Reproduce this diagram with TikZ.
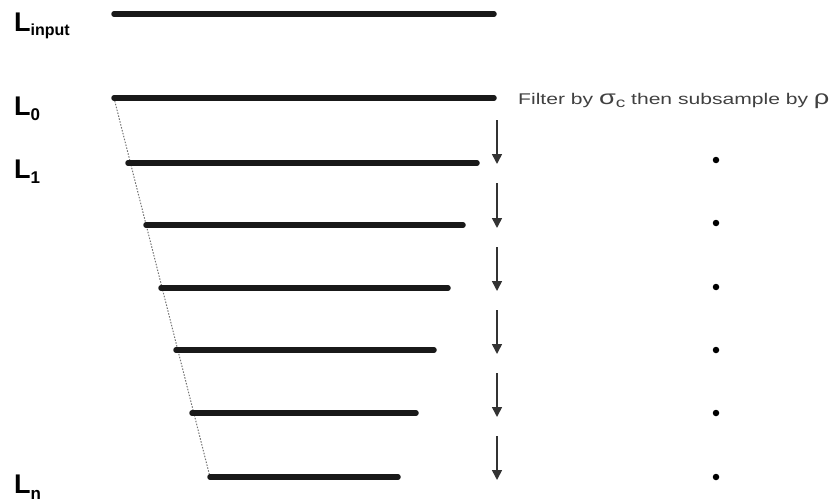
\documentclass[tikz,border=0pt]{standalone}
\usepackage{fontspec}
\setmainfont{Liberation Sans}
\usetikzlibrary{arrows.meta}
\begin{document}
\begin{tikzpicture}[x=1pt,y=-1pt,
  level/.style={line width=5.5pt,line cap=round,black!90},
  guide/.style={black!55,dash pattern=on 1.5pt off 1.5pt,line width=1pt},
  stepdown/.style={-{Triangle[width=10pt,length=10pt]},line width=1.6pt,black!80},
  lab/.style={anchor=base west,inner sep=0pt,font=\bfseries\fontsize{27}{27}\selectfont},
  dotmark/.style={circle,fill=black,inner sep=0pt,minimum size=6.5pt}]
\useasboundingbox (0,0) rectangle (834,503);
% level lines
\coordinate (inA) at (114,14);  \coordinate (inB) at (494,14);
\coordinate (a0) at (114,98);   \coordinate (b0) at (494,98);
\coordinate (a1) at (128,163);  \coordinate (b1) at (477,163);
\coordinate (a2) at (146,225);  \coordinate (b2) at (463,225);
\coordinate (a3) at (161,288);  \coordinate (b3) at (448,288);
\coordinate (a4) at (176,350);  \coordinate (b4) at (434,350);
\coordinate (a5) at (192,413);  \coordinate (b5) at (416,413);
\coordinate (a6) at (210,477);  \coordinate (b6) at (398,477);
\draw[guide] (a0) -- (a6);
\foreach \i in {0,...,6} \draw[level] (a\i) -- (b\i);
\draw[level] (inA) -- (inB);
% labels
\node[lab] (Lin) at (14,32) {L\raisebox{-4pt}{\textbf{\fontsize{16}{16}\selectfont input}}};
\node[lab] (L0) at (14,115) {L\raisebox{-5pt}{\textbf{\fontsize{17}{17}\selectfont 0}}};
\node[lab] (L1) at (14,178) {L\raisebox{-5pt}{\textbf{\fontsize{17}{17}\selectfont 1}}};
\node[lab] (Ln) at (14,493) {L\raisebox{-6pt}{\textbf{\fontsize{17}{17}\selectfont n}}};
\node[anchor=base west,inner sep=0pt,text=black!75,font=\fontsize{15.5}{15.5}\selectfont] (cap) at (518,104)
  {\scalebox{1.36}[1]{Filter by {\fontsize{20}{20}\selectfont σ}\raisebox{-3.5pt}{\fontsize{14}{14}\selectfont c} then subsample by {\fontsize{20}{20}\selectfont ρ}}};
% arrows
\foreach \i/\t/\b in {1/120/164,2/183/228,3/247/291,4/310/354,5/373/417,6/436/480}{
  \coordinate (s\i) at (497,\t); \coordinate (e\i) at (497,\b);
  \draw[stepdown] (s\i) -- (e\i);
}
% dots
\foreach \i/\y in {1/160,2/223,3/287,4/350,5/413,6/477}
  \node[dotmark] (d\i) at (716,\y) {};
\end{tikzpicture}
\end{document}
